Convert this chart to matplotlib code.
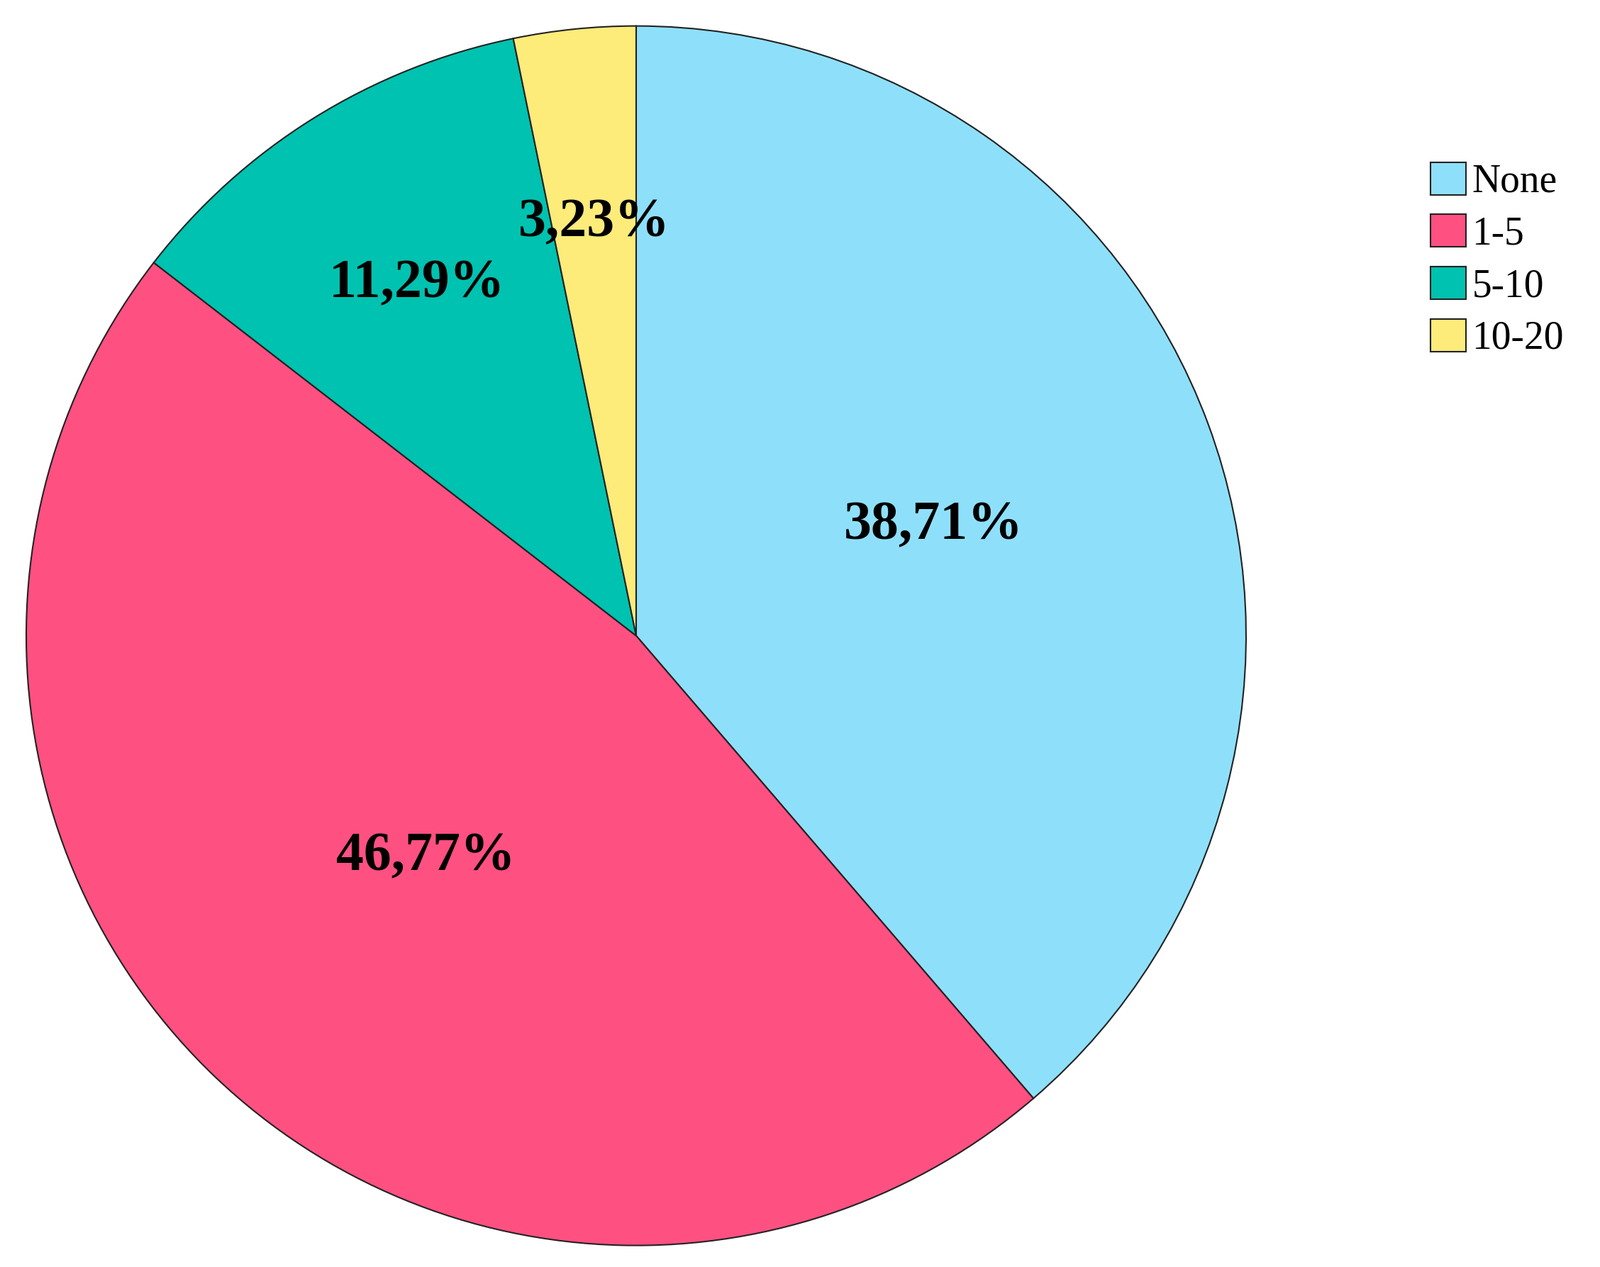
import matplotlib
matplotlib.use("Agg")
import matplotlib.pyplot as plt
import numpy as np

categories = ["None", "1-5", "5-10", "10-20"]
values = [38.71, 46.77, 11.29, 3.23]
labels = ["38,71%", "46,77%", "11,29%", "3,23%"]
colors = ["#8EE0FA", "#FF5082", "#00C2B0", "#FDEB7A"]
label_dist = [0.52, 0.50, 0.68, 0.68]

fig = plt.figure(figsize=(22.56, 17.87), dpi=100)
ax = fig.add_axes([0.0164, 0.017, 0.7624, 0.9625])
wedges, _ = ax.pie(values, colors=colors, startangle=90, counterclock=False,
                   wedgeprops=dict(edgecolor="#222222", linewidth=1.5))
for w, lab, d in zip(wedges, labels, label_dist):
    ang = np.deg2rad((w.theta1 + w.theta2) / 2)
    ax.text(d * np.cos(ang), d * np.sin(ang), lab, ha="center", va="center",
            fontsize=56, fontweight="bold", family="Liberation Serif")
ax.set_xlim(-1, 1); ax.set_ylim(-1, 1)
ax.set_aspect("equal")

leg = fig.legend(wedges, categories, loc="upper left", bbox_to_anchor=(0.872, 0.9),
                 frameon=False, prop=dict(family="Liberation Serif", size=40),
                 handlelength=0.9, handleheight=0.9, handletextpad=0.15, labelspacing=0.35)
fig.savefig("out.png", dpi=100)
